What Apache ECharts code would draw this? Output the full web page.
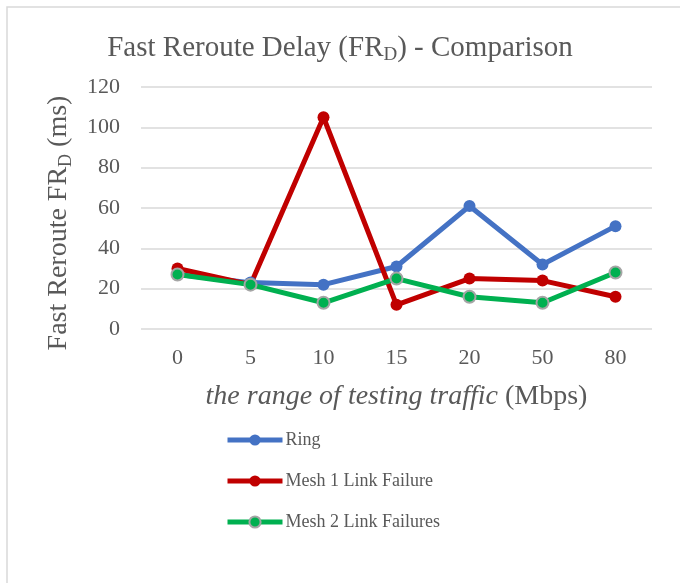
<!DOCTYPE html>
<html><head><meta charset="utf-8">
<script src="https://cdn.jsdelivr.net/npm/echarts@6/dist/echarts.min.js"></script>
<style>html,body{margin:0;padding:0;background:#fff}#c{width:680px;height:583px}</style>
</head><body><div id="c"></div>
<script>
const categories = ['0','5','10','15','20','50','80'];
const ring = [27, 23, 22, 31, 61, 32, 51];
const mesh1 = [30, 22, 105, 12, 25, 24, 16];
const mesh2 = [27, 22, 13, 25, 16, 13, 28];
const seriesNames = ['Ring', 'Mesh 1 Link Failure', 'Mesh 2 Link Failures'];
const colors = ['#4472C4', '#C00000', '#00B050'];

const font = 'Liberation Serif, Times New Roman, serif';
const chart = echarts.init(document.getElementById('c'));
function mk(name, data, color, border) {
  return {
    name, type: 'line', data,
    symbol: 'circle', symbolSize: 12,
    lineStyle: {width: 5, color},
    itemStyle: {color, borderColor: border || color, borderWidth: border ? 2 : 0},
    emphasis: {disabled: true}
  };
}
chart.setOption({
  animation: false,
  title: {
    text: 'Fast Reroute Delay (FR{sub|D}) - Comparison',
    left: 'center', top: 27,
    textStyle: {fontFamily: font, fontSize: 29, fontWeight: 'normal', color: '#595959',
      rich: {sub: {fontFamily: font, fontSize: 19, color: '#595959', verticalAlign: 'bottom', padding: [14,0,0,0]}}}
  },
  graphic: [{type: 'rect', shape: {x: 7, y: 7, width: 720, height: 620},
    style: {fill: 'none', stroke: '#d9d9d9', lineWidth: 1.5}, silent: true}],
  legend: {
    orient: 'vertical', left: 220, top: 426, itemGap: 23,
    itemWidth: 55, itemHeight: 14,
    lineStyle: {width: 5},
    textStyle: {fontFamily: font, fontSize: 18, color: '#595959', padding: [0,0,0,-2]},
    data: seriesNames
  },
  grid: {left: 141, right: 28, top: 87, bottom: 254, containLabel: false},
  xAxis: {
    type: 'category', data: categories, boundaryGap: true,
    axisLine: {show: false}, axisTick: {show: false},
    axisLabel: {fontFamily: font, fontSize: 22, color: '#595959', margin: 18},
    name: '{i|the range of testing traffic} {n|(Mbps)}',
    nameLocation: 'middle', nameGap: 54,
    nameTextStyle: {fontFamily: font, fontSize: 28, color: '#595959',
      rich: {i: {fontFamily: font, fontSize: 28, fontStyle: 'italic', color: '#595959'},
             n: {fontFamily: font, fontSize: 28, color: '#595959'}}}
  },
  yAxis: {
    type: 'value', min: 0, max: 120, interval: 20,
    axisLine: {show: false}, axisTick: {show: false},
    splitLine: {lineStyle: {color: '#d9d9d9', width: 1.5}},
    axisLabel: {fontFamily: font, fontSize: 22, color: '#595959', margin: 21},
    name: 'Fast Reroute FR{sub|D} (ms)',
    nameLocation: 'middle', nameGap: 66, nameRotate: 90,
    nameTextStyle: {fontFamily: font, fontSize: 28, color: '#595959', padding: [0, 30, 0, 0],
      rich: {sub: {fontFamily: font, fontSize: 18, color: '#595959', verticalAlign: 'bottom', padding: [14,0,0,0]}}}
  },
  series: [
    mk(seriesNames[0], ring, colors[0]),
    mk(seriesNames[1], mesh1, colors[1]),
    mk(seriesNames[2], mesh2, colors[2], '#A5A5A5')
  ]
});
</script></body></html>
